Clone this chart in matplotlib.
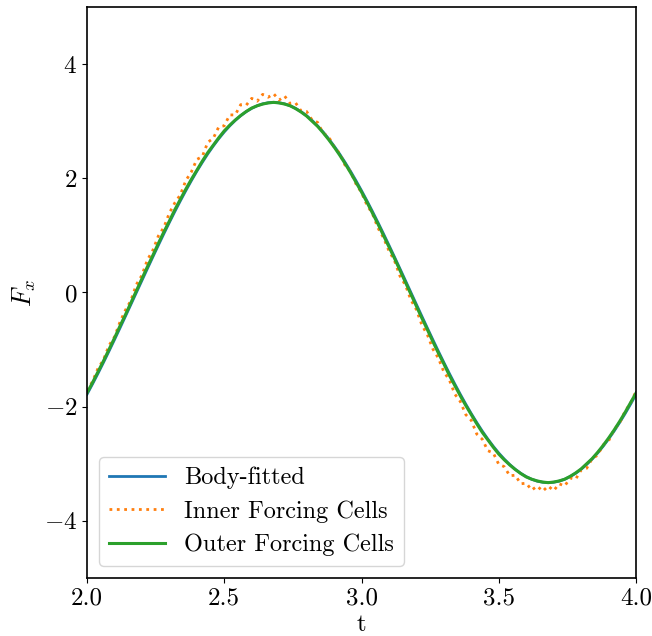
import matplotlib
matplotlib.use("Agg")
import matplotlib.pyplot as plt

plt.rcParams['font.family'] = 'serif'
plt.rcParams['font.serif'] = ['cmr10']
plt.rcParams['mathtext.fontset'] = 'cm'
plt.rcParams['axes.formatter.use_mathtext'] = True
plt.rcParams['axes.unicode_minus'] = True

# time samples, every 0.02
t = [round(2.0 + 0.02 * i, 2) for i in range(101)]

body_fitted = [
    -1.784, -1.604, -1.418, -1.226, -1.029, -0.828, -0.624, -0.417, -0.209,
    0.0,
    0.209, 0.417, 0.624, 0.828, 1.029, 1.226, 1.418, 1.604, 1.784, 1.957,
    2.123, 2.279, 2.428, 2.566, 2.694, 2.812, 2.918, 3.013, 3.096, 3.167,
    3.225, 3.271, 3.304, 3.323, 3.330,
    3.323, 3.304, 3.271, 3.225, 3.167, 3.096, 3.013, 2.918, 2.812, 2.694,
    2.566, 2.428, 2.279, 2.123, 1.957, 1.784, 1.604, 1.418, 1.226, 1.029,
    0.828, 0.624, 0.417, 0.209, 0.0,
    -0.209, -0.417, -0.624, -0.828, -1.029, -1.226, -1.418, -1.604, -1.784, -1.957,
    -2.123, -2.279, -2.428, -2.566, -2.694, -2.812, -2.918, -3.013, -3.096, -3.167,
    -3.225, -3.271, -3.304, -3.323, -3.330,
    -3.323, -3.304, -3.271, -3.225, -3.167, -3.096, -3.013, -2.918, -2.812, -2.694,
    -2.566, -2.428, -2.279, -2.123, -1.957, -1.784]

outer_cells = [
    -1.76, -1.58, -1.39, -1.20, -1.00, -0.80, -0.59, -0.39, -0.18,
    0.03,
    0.24, 0.45, 0.65, 0.86, 1.06, 1.25, 1.45, 1.63, 1.81, 1.98,
    2.14, 2.30, 2.45, 2.58, 2.71, 2.83, 2.93, 3.02, 3.10, 3.17,
    3.23, 3.27, 3.30, 3.32, 3.33,
    3.32, 3.30, 3.27, 3.22, 3.16, 3.09, 3.00, 2.91, 2.80, 2.68,
    2.55, 2.41, 2.26, 2.10, 1.93, 1.76, 1.58, 1.39, 1.20, 1.00,
    0.80, 0.60, 0.39, 0.18, -0.03,
    -0.24, -0.45, -0.65, -0.86, -1.06, -1.25, -1.45, -1.63, -1.81, -1.98,
    -2.14, -2.30, -2.45, -2.58, -2.71, -2.83, -2.93, -3.02, -3.10, -3.17,
    -3.23, -3.27, -3.30, -3.32, -3.33,
    -3.32, -3.30, -3.27, -3.22, -3.16, -3.09, -3.00, -2.91, -2.80, -2.68,
    -2.55, -2.41, -2.26, -2.10, -1.93, -1.76]

inner_cells = [
    -1.72, -1.56, -1.33, -1.18, -0.93, -0.78, -0.52, -0.31, -0.14, 0.14,
    0.30, 0.57, 0.74, 0.99, 1.14, 1.39, 1.57, 1.71, 1.96, 2.11,
    2.33, 2.38, 2.63, 2.70, 2.90, 2.92, 3.11, 3.11, 3.29, 3.28,
    3.40, 3.35, 3.47, 3.42, 3.48, 3.37, 3.44, 3.31, 3.32, 3.18,
    3.17, 3.02, 2.98, 2.79, 2.73, 2.55, 2.44, 2.23, 2.12, 1.90,
    1.75, 1.53, 1.38, 1.13, 0.96, 0.73, 0.56, 0.29, 0.13, -0.13,
    -0.30, -0.57, -0.74, -0.99, -1.15, -1.39, -1.53, -1.78, -1.91, -2.14,
    -2.24, -2.48, -2.57, -2.77, -2.81, -3.01, -3.05, -3.21, -3.20, -3.35,
    -3.34, -3.46, -3.39, -3.48, -3.39, -3.47, -3.35, -3.39, -3.25, -3.27,
    -3.11, -3.08, -2.91, -2.85, -2.67, -2.60, -2.40, -2.29, -2.08, -1.94, -1.73]

labels = ['Body-fitted', 'Inner Forcing Cells', 'Outer Forcing Cells']
xticks = [2.0, 2.5, 3.0, 3.5, 4.0]
yticks = [-4, -2, 0, 2, 4]

fig = plt.figure(figsize=(6.52, 6.36), dpi=100)
ax = fig.add_axes([0.1334, 0.0912, 0.8421, 0.8978])

ax.plot(t, body_fitted, color='#1f77b4', lw=2, label=labels[0])
ax.plot(t, inner_cells, color='#ff7f0e', lw=2, ls=':', label=labels[1])
ax.plot(t, outer_cells, color='#2ca02c', lw=2.2, label=labels[2])

ax.set_xlim(2.0, 4.0)
ax.set_ylim(-5, 5)
ax.set_xticks(xticks)
ax.set_xticklabels([f'{v:.1f}' for v in xticks])
ax.set_yticks(yticks)
ax.tick_params(labelsize=18)
ax.set_xlabel('t', fontsize=18, labelpad=3)
ax.set_ylabel('$F_x$', fontsize=19, labelpad=4)
for s in ax.spines.values():
    s.set_linewidth(1.2)

ax.legend(loc='lower left', fontsize=17.5, framealpha=0.8, handlelength=2.3,
          labelspacing=0.45)

fig.savefig('out.png', dpi=100)
